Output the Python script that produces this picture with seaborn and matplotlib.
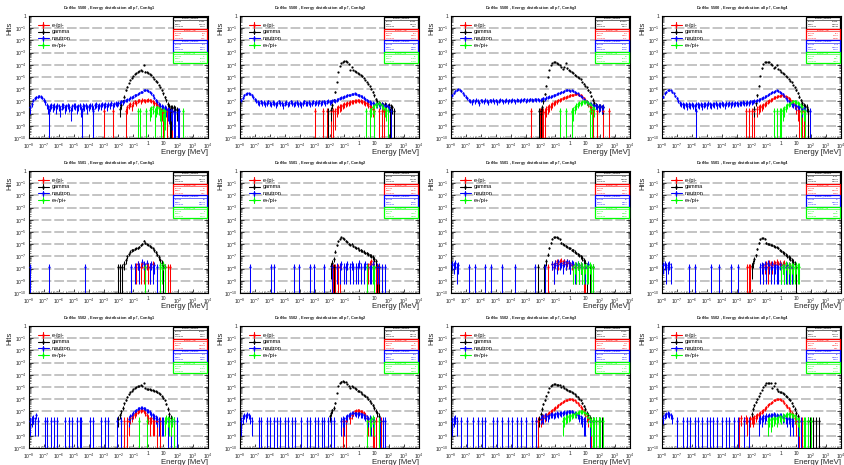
import numpy as np
import matplotlib
matplotlib.use("Agg")
import matplotlib.pyplot as plt
from matplotlib.patches import Rectangle
import seaborn as sns

# ---------------------------------------------------------------------------
# Histogram contents.  Every series is a list of runs (first bin centre in
# log10(E/MeV), list of log10(hits) per 0.1-decade bin, None = empty bin),
# plus the single-entry bins (log10 E) that sit at the unit weight.
# ---------------------------------------------------------------------------
DETECTORS = [5500, 5501, 5502]
CONFIGS = ["Config1", "Config2", "Config3", "Config4"]
SERIES_NAMES = ["e-/pi-", "gamma", "neutron", "e+/pi+"]
SERIES_KEYS = ["EM", "GAMMA", "NEUTRON", "EP"]
UNIT_WEIGHT = [1.5e-8, 1.3e-8, 1.6e-8]
BIN_STEP = 0.1

# ----- DetNo 5500 ----------------------------------------------------------
EM_5500_C1 = [(-1.4, [-7.5, -7.3, -7.2, -7.4, -7.1, -7.0, -7.1, -6.95, -6.9, -7.0, -6.85, -6.9, -6.95, -6.9,
                      -6.85, -6.9, -6.95, -7.0, -7.1, -7.15, -7.3, -7.4, -7.6, -7.7, -7.85])]
EM_5500_C1_ONE = [-2.97, -2.34, -1.5, 1.25, 1.45, 1.6]
GAMMA_5500_C1 = [(-1.9, [-7.6, -7.3, -7.0, -6.6, -6.1, -5.8, -5.5, -5.25, -5.05, -4.9, -4.75, -4.65, -4.55, -4.5,
                         -4.45, -4.5, -4.0, -4.55, -4.6, -4.65, -4.75, -4.85, -5.0, -5.15, -5.3, -5.45, -5.65,
                         -5.85, -6.1, -6.35, -6.65, -6.9, -7.2, -7.4, -7.5, -7.55, -7.5, -7.6, -7.7])]
GAMMA_5500_C1_ONE = [1.45, 1.55, 1.75]
NEUTRON_5500_C1 = [(-7.9, [-7.5, -7.2, -6.9, -6.75, -6.65, -6.6, -6.55, -6.6, -6.7, -6.85, -7.05, -7.3, -7.5, -7.4,
                           -7.3, -7.45, -7.35, -7.5, -7.3, -7.4, -7.6, -7.35, -7.3, -7.5, -7.4, -7.3, -7.45, -7.7,
                           -7.4, -7.3, -7.35, -7.5, -7.4, -7.3, -7.6, -7.35, -7.4, -7.3, -7.5, -7.4, -7.3, -7.35,
                           -7.6, -7.3, -7.25, -7.4, -7.3, -7.35, -7.2, -7.3, -7.25, -7.4, -7.2, -7.3, -7.15, -7.3,
                           -7.2, -7.1, -7.2, -7.1, -7.15, -7.0, -7.05, -6.95, -6.9, -6.85, -6.8, -6.7, -6.65, -6.6,
                           -6.5, -6.45, -6.4, -6.3, -6.25, -6.2, -6.1, -6.05, -6.1, -6.15, -6.25, -6.35, -6.5,
                           -6.7, -6.9, -7.05, -7.2, -7.35, -7.4, -7.5, -7.55, -7.6, -7.7, -7.75, -7.7, -7.8,
                           -7.85, -7.9, None, -7.85])]
NEUTRON_5500_C1_ONE = [-6.64, -4.47, -3.7, 2.05]
EP_5500_C1 = [(0.1, [-7.7, -7.6, -7.5, None, -7.6, -7.5, -7.55, -7.7, None, -7.7, -7.8])]
EP_5500_C1_ONE = [-0.7, -0.55, -0.15, 0.45, 0.85, 1.05, 2.3]

EM_5500_C2 = [(-1.6, [-7.8, -7.6, -7.5, -7.45, -7.4, -7.3, -7.25, -7.2, -7.15, -7.1, -7.05, -7.0, -7.0, -6.95,
                      -6.95, -6.9, -6.95, -6.95, -7.0, -7.05, -7.1, -7.15, -7.25, -7.35, -7.5, -7.6, -7.8])]
EM_5500_C2_ONE = [-2.95, -2.45, -2.2, -1.9, -1.75, 1.3, 1.5, 1.65]
GAMMA_5500_C2 = [(-1.9, [-7.7, -7.3, -6.9, -6.2, -5.4, -4.6, -4.1, -3.85, -3.75, -3.7, -3.7, -3.75, -3.9, -4.4,
                         -4.15, -4.4, -4.5, -4.55, -4.65, -4.75, -4.85, -4.95, -5.1, -5.25, -5.4, -5.55, -5.75,
                         -5.95, -6.2, -6.5, -6.8, -7.0, -7.15, -7.2, -7.25, -7.3, -7.25, -7.35, -7.4, -7.3,
                         -7.45, -7.5])]
GAMMA_5500_C2_ONE = [-2.1, 2.05, 2.3]
NEUTRON_5500_C2 = [(-7.9, [-6.9, -6.7, -6.5, -6.4, -6.35, -6.35, -6.4, -6.5, -6.65, -6.8, -6.95, -7.05, -7.1, -7.0,
                           -7.15, -7.05, -7.2, -7.1, -7.0, -7.15, -7.2, -7.05, -7.1, -7.25, -7.1, -7.0, -7.15,
                           -7.1, -7.3, -7.1, -7.05, -7.2, -7.1, -7.0, -7.15, -7.2, -7.1, -7.05, -7.2, -7.1, -7.25,
                           -7.1, -7.0, -7.15, -7.1, -7.05, -7.2, -7.1, -7.0, -7.1, -7.05, -7.15, -7.0, -7.1,
                           -7.05, -7.0, -7.1, -7.0, -6.95, -7.05, -7.0, -6.95, -6.9, -6.95, -6.85, -6.8, -6.75,
                           -6.7, -6.65, -6.6, -6.55, -6.5, -6.45, -6.45, -6.4, -6.4, -6.35, -6.4, -6.45, -6.5,
                           -6.55, -6.6, -6.7, -6.8, -6.9, -7.0, -7.05, -7.1, -7.15, -7.2, -7.2, -7.25, -7.2,
                           -7.3, -7.25, -7.3, -7.35, -7.3, -7.4, -7.45])]
NEUTRON_5500_C2_ONE = [2.15]
EP_5500_C2 = [(0.8, [-7.6, -7.5, -7.3, -7.25, -7.2, -7.15, -7.2, -7.3, -7.45, -7.6, -7.7])]
EP_5500_C2_ONE = [0.45, 0.7, 1.0, 1.9]

EM_5500_C3 = [(-1.9, [-8.0, -7.9, -7.85, -7.6, -7.5, -7.45, -7.35, -7.25, -7.15, -7.05, -7.0, -6.9, -6.85, -6.8,
                      -6.75, -6.7, -6.65, -6.6, -6.55, -6.5, -6.45, -6.45, -6.4, -6.4, -6.4, -6.45, -6.5, -6.6,
                      -6.75, -6.9, -7.05, -7.2, -7.35, -7.5, -7.7])]
EM_5500_C3_ONE = [-2.65, -2.05, -1.95, 1.55, 1.8, 2.2, 2.6]
GAMMA_5500_C3 = [(-2.0, [-8.0, -7.5, -7.0, -6.4, -5.7, -5.0, -4.4, -4.0, -3.85, -3.8, -3.8, -3.85, -3.9, -4.0,
                         -4.15, -4.35, -4.2, -3.85, -4.3, -4.4, -4.5, -4.6, -4.7, -4.8, -4.9, -5.0, -5.1, -5.2,
                         -5.4, -5.55, -5.7, -5.85, -6.05, -6.25, -6.55, -6.85, -7.1, -7.3, -7.4, -7.45, -7.4,
                         -7.5, -7.5])]
GAMMA_5500_C3_ONE = [-2.1, -2.0]
NEUTRON_5500_C3 = [(-7.9, [-6.5, -6.3, -6.15, -6.05, -6.0, -6.05, -6.15, -6.3, -6.45, -6.6, -6.75, -6.9, -6.95,
                           -7.05, -6.9, -7.0, -6.85, -6.95, -7.1, -6.9, -6.95, -7.0, -6.85, -6.95, -7.05, -6.9,
                           -6.95, -6.85, -7.0, -6.9, -7.05, -6.95, -6.85, -6.9, -7.0, -6.95, -6.85, -7.0, -6.9,
                           -6.95, -6.85, -6.9, -7.0, -6.85, -6.9, -6.95, -6.85, -6.9, -6.8, -6.95, -6.85, -6.9,
                           -6.8, -6.85, -6.9, -6.8, -6.85, -6.8, -6.9, -6.85, -6.8, -6.75, -6.8, -6.7, -6.65,
                           -6.6, -6.6, -6.55, -6.5, -6.45, -6.4, -6.35, -6.3, -6.25, -6.2, -6.15, -6.1, -6.05,
                           -6.1, -6.15, -6.1, -6.15, -6.2, -6.3, -6.35, -6.45, -6.55, -6.65, -6.8, -6.95, -7.05,
                           -7.1, -7.2, -7.25, -7.3, -7.35, -7.3, -7.4, -7.45, -7.4, -7.5, -7.45])]
NEUTRON_5500_C3_ONE = []
EP_5500_C3 = [(0.1, [-7.9, -7.7, -7.5, -7.35, -7.25, -7.15, -7.1, -7.05, -7.0, -7.0, -7.05, -7.1, -7.2, -7.3,
                     -7.45, -7.6])]
EP_5500_C3_ONE = [-0.7, -0.3, 0.1, 1.3, 1.45]

EM_5500_C4 = [(-1.6, [-7.6, -7.5, -7.45, -7.4, -7.3, -7.2, -7.1, -7.0, -6.95, -6.85, -6.8, -6.7, -6.65, -6.6,
                      -6.55, -6.55, -6.5, -6.5, -6.55, -6.6, -6.65, -6.75, -6.85, -7.0, -7.15, -7.3, -7.5, -7.7])]
EM_5500_C4_ONE = [-2.35, -2.2, -2.0, -1.8, 1.2, 1.4, 1.55]
GAMMA_5500_C4 = [(-1.8, [-7.6, -7.1, -6.5, -5.7, -4.9, -4.3, -3.95, -3.8, -3.75, -3.75, -3.8, -3.9, -4.05, -4.25,
                         -4.15, -4.0, -4.35, -4.45, -4.55, -4.65, -4.75, -4.9, -5.0, -5.15, -5.3, -5.45, -5.65,
                         -5.85, -6.05, -6.3, -6.6, -6.9, -7.15, -7.3, -7.4, -7.45])]
GAMMA_5500_C4_ONE = [1.8]
NEUTRON_5500_C4 = [(-7.9, [-6.6, -6.35, -6.2, -6.1, -6.05, -6.1, -6.2, -6.35, -6.55, -6.75, -6.95, -7.1, -7.2,
                           -7.25, -7.3, -7.2, -7.35, -7.25, -7.3, -7.2, -7.3, -7.4, -7.2, -7.25, -7.3, -7.2,
                           -7.35, -7.25, -7.2, -7.3, -7.15, -7.25, -7.3, -7.2, -7.25, -7.15, -7.3, -7.2, -7.25,
                           -7.15, -7.2, -7.3, -7.15, -7.2, -7.1, -7.25, -7.15, -7.2, -7.1, -7.15, -7.2, -7.1,
                           -7.15, -7.05, -7.1, -7.15, -7.05, -7.1, -7.0, -7.05, -7.0, -6.95, -7.0, -6.9, -6.85,
                           -6.8, -6.75, -6.7, -6.6, -6.55, -6.45, -6.4, -6.3, -6.25, -6.2, -6.15, -6.1, -6.15,
                           -6.2, -6.3, -6.4, -6.55, -6.7, -6.85, -7.0, -7.1, -7.2, -7.25, -7.3, -7.35, -7.4,
                           -7.45, -7.5, -7.6, -7.55, -7.7])]
NEUTRON_5500_C4_ONE = [-5.7, 1.9]
EP_5500_C4 = [(0.1, [-7.7, -7.6, -7.45, -7.3, -7.2, -7.1, -7.05, -7.0, -7.0, -7.05, -7.1, -7.2, -7.35, -7.5,
                     -7.7])]
EP_5500_C4_ONE = [-0.5, -0.3, -0.1, 0.0, 1.3, 1.6]

# ----- DetNo 5501 ----------------------------------------------------------
EM_5501_C1 = [(-0.8, [-7.85, -7.6, None, -7.85, -7.5, -7.85, None, -7.6, -7.85, -7.85, None, -7.6])]
EM_5501_C1_ONE = [1.3, 1.45]
GAMMA_5501_C1 = [(-1.6, [-7.6, -7.3, -7.0, -6.8, -6.6, -6.5, -6.45, -6.4, -6.35, -6.3, -6.2, -6.1, -5.95, -5.7,
                         -5.9, -6.0, -6.05, -6.15, -6.25, -6.35, -6.5, -6.65, -6.85, -7.05, -7.3, -7.5, -7.7])]
GAMMA_5501_C1_ONE = [-2.05, -1.9, -1.75, 1.0, 1.1]
NEUTRON_5501_C1 = [(-0.9, [-7.85, None, -7.6, -7.85, None, -7.45, -7.6, -7.85, -7.5, None, -7.85, -7.6, -7.85,
                           -7.7])]
NEUTRON_5501_C1_ONE = [-7.95, -6.65, -4.25, -1.15, 0.6]
EP_5501_C1 = [(0.8, [-7.7, -7.85, -7.6])]
EP_5501_C1_ONE = [-0.2, 0.75, 1.1]

EM_5501_C2 = [(0.6, [-7.85, -7.6, -7.4, -7.6])]
EM_5501_C2_ONE = [-1.85, -1.75, -1.6, -1.45, -1.3, 1.1, 1.25]
GAMMA_5501_C2 = [(-1.9, [-7.8, -7.5, -7.2, -6.6, -6.1, -5.75, -5.55, -5.45, -5.5, -5.6, -5.7, -5.8, -5.95, -6.05,
                         -5.95, -6.15, -6.25, -6.3, -6.35, -6.45, -6.5, -6.55, -6.6, -6.7, -6.75, -6.8, -6.9,
                         -6.95, -7.05, -7.2, -7.4])]
GAMMA_5501_C2_ONE = [-1.85, -1.7, 1.2, 1.3]
NEUTRON_5501_C2 = [(-1.5, [-7.85, None, -7.85, -7.6, None, -7.85, -7.85, -7.6, None, -7.85, -7.6, -7.85, None,
                           -7.85, -7.85, -7.5, -7.85, None, -7.85, -7.6, -7.85, None, -7.85, -7.85, -7.6, -7.85,
                           None, -7.85, -7.85])]
NEUTRON_5501_C2_ONE = [-7.35, -5.9, -5.7, -4.4, -4.05, -3.3, -3.05, -2.4, -1.8, 1.5, 1.75]
EP_5501_C2 = [(0.9, [-7.85])]
EP_5501_C2_ONE = [0.5, 1.0]

EM_5501_C3 = [(-1.2, [-7.6, -7.85, -7.5, -7.4, -7.6, -7.45, -7.35, -7.5, -7.4, -7.6, -7.45, -7.5, -7.7, -7.6,
                      -7.85, -7.7, -7.85, None, -7.85, -7.7])]
EM_5501_C3_ONE = [-1.5, 0.9, 1.0]
GAMMA_5501_C3 = [(-1.6, [-7.4, -6.85, -6.3, -5.9, -5.55, -5.45, -5.4, -5.45, -5.5, -5.6, -5.9, -5.95, -6.05,
                         -6.15, -6.2, -6.3, -6.35, -6.45, -6.5, -6.6, -6.7, -6.8, -6.9, -7.0, -7.15, -7.3, -7.5])]
GAMMA_5501_C3_ONE = [-2.2, -1.75, 1.1, 1.3, 1.5]
NEUTRON_5501_C3 = [(-7.9, [-7.6, -7.7, -7.55, -7.85, -7.7]),
                   (-1.2, [-7.6, -7.85, -7.5, -7.7, -7.4, -7.6, -7.5, -7.7, -7.45, -7.6, -7.4, -7.55, -7.7,
                           -7.5, -7.6, -7.85, -7.7, -7.6, -7.85, -7.7, -7.85, None, -7.85, -7.85, -7.6])]
NEUTRON_5501_C3_ONE = [-6.8, -6.4, -5.7, -5.3, -4.6, -3.7, -2.4, -1.7]
EP_5501_C3 = [(0.2, [-7.85, -7.7, -7.85, -7.6, -7.85, -7.7, -7.85, -7.85, -7.7, -7.85, -7.85, -7.7])]
EP_5501_C3_ONE = [1.4, 1.5]

EM_5501_C4 = [(-1.2, [-7.85, -7.7, -7.6, -7.85, -7.5, -7.6, -7.7, -7.55, -7.6, -7.45, -7.6, -7.5, -7.7, -7.6,
                      -7.55, -7.7, -7.85, -7.7, -7.85, -7.85])]
EM_5501_C4_ONE = [-2.3, -2.2, -2.1]
GAMMA_5501_C4 = [(-2.0, [-7.8, -7.5, -7.2, -6.9, -6.4, -5.9, -5.6, -5.5, -5.5, -5.55, -5.9, -5.95, -6.0, -6.05,
                         -6.1, -6.15, -6.2, -6.25, -6.35, -6.45, -6.55, -6.65, -6.75, -6.85, -6.95, -7.05,
                         -7.15, -7.3, -7.45, -7.6])]
GAMMA_5501_C4_ONE = [1.0]
NEUTRON_5501_C4 = [(-7.9, [-7.7, -7.6, -7.85, -7.7, -7.6, -7.85]),
                   (-1.4, [-7.85, -7.7, -7.85, -7.6, -7.85, -7.5, -7.7, -7.85, -7.6, -7.85, -7.7, -7.85, -7.85,
                           -7.6, -7.85, -7.7, -7.85, -7.85, -7.7, -7.85, -7.85, -7.85])]
NEUTRON_5501_C4_ONE = [-6.2, -5.8, -4.7, -4.2, -3.4, -2.9]
EP_5501_C4 = [(0.0, [-7.85, -7.7, -7.85, -7.6, -7.85, -7.7, -7.85, -7.7, -7.85, -7.85, -7.7, -7.85, -7.85])]
EP_5501_C4_ONE = []

# ----- DetNo 5502 ----------------------------------------------------------
EM_5502_C1 = [(-1.3, [-7.75, -7.5, -7.4, -7.3, -7.2, -7.1, -7.0, -6.95, -6.9, -6.85, -6.95, -7.1, -7.3, -7.5,
                      -7.75, -7.5, -7.75, -7.75])]
EM_5502_C1_ONE = [-1.6, -1.45, 0.6, 0.75]
GAMMA_5502_C1 = [(-2.0, [-7.6, -7.3, -7.0, -6.7, -6.35, -6.05, -5.8, -5.6, -5.45, -5.3, -5.2, -5.1, -5.0, -4.95,
                         -4.9, -4.85, -4.9, -4.65, -5.1, -5.15, -5.2, -5.2, -5.25, -5.25, -5.3, -5.35, -5.45,
                         -5.5, -5.6, -5.75, -5.9, -6.1, -6.4, -6.8, -7.2, -7.5])]
GAMMA_5502_C1_ONE = []
NEUTRON_5502_C1 = [(-7.9, [-7.75, -7.6, -7.5, -7.75, -7.3, -7.75]),
                   (-1.3, [-7.6, -7.4, -7.3, -7.1, -7.0, -6.9, -6.8, -6.75, -6.7, -6.7, -6.75, -6.8, -6.9,
                           -6.95, -7.05, -7.2, -7.3, -7.4, -7.5, -7.6, -7.75, None, -7.75, -7.75])]
NEUTRON_5502_C1_ONE = [-6.9, -6.8, -6.5, -6.3, -6.1, -5.6, -5.3, -5.1, -4.8, -4.6, -4.5, -3.9, -3.7, -3.2,
                       -2.9, -2.7, -2.1, -1.85, 1.3, 1.5, 1.7, 1.9]
EP_5502_C1 = [(1.1, [-7.75, -7.5, -7.6, -7.75, -7.75, -7.6])]
EP_5502_C1_ONE = [-0.6, -0.1, 1.7]

EM_5502_C2 = [(-0.6, [-7.5, -7.3, -7.1, -7.0, -6.95, -6.9, -6.95, -7.0, -7.05, -7.15, -7.3, -7.5, -7.75])]
EM_5502_C2_ONE = [-1.1, -0.9, 0.9, 1.0, 1.15, 1.45]
GAMMA_5502_C2 = [(-2.0, [-7.4, -7.1, -6.9, -6.7, -6.3, -5.5, -4.9, -4.65, -4.55, -4.5, -4.55, -4.6, -4.75, -4.9,
                         -5.05, -4.9, -5.0, -5.1, -5.2, -5.3, -5.35, -5.45, -5.55, -5.65, -5.75, -5.85, -6.0,
                         -6.15, -6.3, -6.5, -6.7, -6.95, -7.15, -7.35])]
GAMMA_5502_C2_ONE = [1.4]
NEUTRON_5502_C2 = [(-7.9, [-7.75, -7.5, -7.3, -7.4, -7.25, -7.3, -7.5, -7.75]),
                   (-1.2, [-7.75, -7.6, -7.75, -7.5, -7.4, -7.3, -7.2, -7.15, -7.1, -7.1, -7.15, -7.2, -7.1,
                           -7.2, -7.25, -7.3, -7.35, -7.5, -7.6, -7.5, -7.75, -7.6, -7.75])]
NEUTRON_5502_C2_ONE = [-6.7, -6.6, -6.2, -6.0, -5.7, -5.5, -5.3, -5.0, -4.8, -4.5, -4.3, -3.9, -3.5, -3.3,
                       -3.0, -2.8, -2.5, -2.4, -2.1, -1.9, -1.7, 1.4, 1.6, 1.75]
EP_5502_C2 = [(0.7, [-7.75, -7.6, -7.5, -7.75])]
EP_5502_C2_ONE = [0.5, 1.3]

EM_5502_C3 = [(-2.0, [-7.6, -7.5, -7.45, -7.4, -7.3, -7.2, -7.1, -7.0, -6.9, -6.8, -6.7, -6.6, -6.5, -6.4, -6.3,
                      -6.2, -6.15, -6.1, -6.05, -6.0, -6.0, -6.0, -6.05, -6.1, -6.2, -6.3, -6.45, -6.6, -6.8,
                      -7.0, -7.2, -7.4, -7.6])]
EM_5502_C3_ONE = [-2.3, -2.15, 1.4]
GAMMA_5502_C3 = [(-2.1, [-7.6, -7.2, -6.8, -6.4, -6.05, -5.7, -5.4, -5.1, -4.9, -4.8, -4.75, -4.75, -4.8, -4.8,
                         -4.85, -5.0, -4.95, -5.05, -5.15, -5.25, -5.3, -5.35, -5.4, -5.5, -5.6, -5.7, -5.8,
                         -5.95, -6.1, -6.3, -6.55, -6.8, -7.1, -7.3, -7.5])]
GAMMA_5502_C3_ONE = [1.5, 1.7, 1.9, 2.1]
NEUTRON_5502_C3 = [(-7.9, [-7.75, -7.6, -7.5, -7.75]),
                   (-2.0, [-7.5, -7.4, -7.5, -7.3, -7.35, -7.4, -7.3, -7.25, -7.2, -7.3, -7.2, -7.15, -7.2,
                           -7.1, -7.15, -7.1, -7.05, -7.1, -7.05, -7.0, -7.05, -7.0, -7.1, -7.15, -7.2, -7.3,
                           -7.4, -7.5, -7.6, -7.75, -7.75])]
NEUTRON_5502_C3_ONE = [-7.3, -6.9, -6.5, -6.2, -5.9, -5.7, -5.2, -4.9, -4.6, -4.2, -3.9, -3.6, -3.3, -3.0,
                       -2.6, -2.3, 1.3, 1.5]
EP_5502_C3 = [(-0.5, [-7.75, -7.6, -7.5, -7.45, -7.4, -7.35, -7.3, -7.25, -7.2, -7.15, -7.1, -7.05, -7.0, -7.0,
                      -7.05, -7.1, -7.25, -7.45, -7.6, -7.75])]
EP_5502_C3_ONE = [1.5, 1.6, 1.75, 1.9, 2.0, 2.2]

EM_5502_C4 = [(-2.7, [-7.55, None, -7.75, -7.5, -7.75, None, -7.6, -7.5, -7.6, -7.5, -7.4, -7.3, -7.25, -7.1,
                      -7.0, -6.9, -6.8, -6.65, -6.5, -6.4, -6.3, -6.2, -6.1, -6.05, -6.0, -6.0, -6.0, -6.05,
                      -6.15, -6.3, -6.45, -6.6, -6.75, -6.95, -7.1, -7.3, -7.5, -7.75])]
EM_5502_C4_ONE = [-2.85, 1.2, 1.4]
GAMMA_5502_C4 = [(-2.0, [-7.2, -6.8, -6.5, -6.25, -6.0, -5.75, -5.5, -5.25, -5.0, -4.85, -4.7, -4.65, -4.65,
                         -4.7, -5.1, -4.9, -4.65, -5.2, -5.35, -5.4, -5.45, -5.5, -5.6, -5.7, -5.8, -5.95, -6.1,
                         -6.3, -6.55, -6.8, -7.1, -7.4])]
GAMMA_5502_C4_ONE = [1.8, 1.95, 2.1, 2.3, 2.5]
NEUTRON_5502_C4 = [(-7.9, [-7.5, -7.3, -7.25, -7.15, -7.2, -7.3, -7.5]),
                   (-1.5, [-7.75, -7.5, -7.6, -7.4, -7.5, -7.35, -7.4, -7.3, -7.35, -7.3, -7.25, -7.35, -7.3,
                           -7.4, -7.3, -7.35, -7.45, -7.4, -7.5, -7.6, -7.5, -7.75, -7.6, -7.75])]
NEUTRON_5502_C4_ONE = [-7.0, -6.6, -6.3, -6.1, -5.8, -5.6, -5.3, -5.0, -4.8, -4.6, -4.3, -4.0, -3.7, -3.5,
                       -3.2, -2.9, -2.5, -2.2, 1.1, 1.3]
EP_5502_C4 = [(-0.9, [-7.75, -7.6, -7.7, -7.6, -7.55, -7.5, -7.6, -7.45, -7.4, -7.5, -7.35, -7.4, -7.3, -7.25,
                      -7.2, -7.2, -7.25, -7.3, -7.4, -7.5, -7.6, -7.75])]
EP_5502_C4_ONE = [1.5, 1.6, 1.8, 2.0]

X_TICK_LABELS = [r"$10^{-8}$", r"$10^{-7}$", r"$10^{-6}$", r"$10^{-5}$", r"$10^{-4}$", r"$10^{-3}$",
                 r"$10^{-2}$", r"$10^{-1}$", "1", "10", r"$10^{2}$", r"$10^{3}$", r"$10^{4}$"]
Y_TICK_LABELS = [r"$10^{-10}$", r"$10^{-9}$", r"$10^{-8}$", r"$10^{-7}$", r"$10^{-6}$", r"$10^{-5}$",
                 r"$10^{-4}$", r"$10^{-3}$", r"$10^{-2}$", r"$10^{-1}$", "1"]

# ---------------------------------------------------------------------------
# Style
# ---------------------------------------------------------------------------
sns.set_style("ticks")
plt.rcParams["font.family"] = ["Liberation Sans", "DejaVu Sans"]
plt.rcParams["mathtext.fontset"] = "custom"
plt.rcParams["mathtext.rm"] = "Liberation Sans"
plt.rcParams["mathtext.it"] = "Liberation Sans:italic"
plt.rcParams["mathtext.bf"] = "Liberation Sans:bold"
plt.rcParams["mathtext.default"] = "regular"

COLORS = {"EM": "#ff0000", "GAMMA": "#000000", "NEUTRON": "#0000ff", "EP": "#00ff00"}
STAT_ORDER = ["GAMMA", "EM", "NEUTRON", "EP"]
STAT_TITLES = {"GAMMA": "hEnergy_gamma", "EM": "hEnergy_em", "NEUTRON": "hEnergy_neutron", "EP": "hEnergy_ep"}

W_PX, H_PX = 844, 465
fig = plt.figure(figsize=(W_PX / 100, H_PX / 100), dpi=100)
fig.patch.set_facecolor("white")

# panel geometry in pixels (per 211 x 155 cell)
CELL_W, CELL_H = 211, 155
AX_L, AX_R, AX_T, AX_B = 29, 208, 16, 138


def series_points(runs, ones, w):
    xs, ys = [], []
    for start, vals in runs:
        for i, v in enumerate(vals):
            if v is None:
                continue
            xs.append(start + i * BIN_STEP)
            ys.append(10.0 ** v)
    for e in ones:
        xs.append(e)
        ys.append(w)
    return 10.0 ** np.array(xs), np.array(ys)


def draw_series(ax, energies, hits, w, color):
    if len(energies) == 0:
        return
    err = np.sqrt(hits * w)
    lo = np.clip(hits - err, 1e-10, None)
    hi = hits + err
    ax.vlines(energies, lo, hi, colors=color, lw=0.75, zorder=3)
    sns.scatterplot(x=energies, y=hits, color=color, s=2.6, linewidth=0, ax=ax,
                    legend=False, zorder=4)


def draw_stats(ax, key, idx, energies, hits, w):
    color = COLORS[key]
    bx0, bw = 0.806, 0.189
    bh = 0.094
    by = 0.99 - (idx + 1) * bh
    ax.add_patch(Rectangle((bx0, by), bw, bh, transform=ax.transAxes, facecolor="white",
                           edgecolor=color, lw=0.9, zorder=6, clip_on=False))
    ax.plot([bx0, bx0 + bw], [by + bh * 0.76, by + bh * 0.76], transform=ax.transAxes,
            color=color, lw=0.4, zorder=7, clip_on=False)
    if len(hits):
        total = hits.sum()
        entries = int(round(total / w))
        mean = float((hits * energies).sum() / total)
        std = float(np.sqrt((hits * (energies - mean) ** 2).sum() / total))
    else:
        entries, mean, std = 0, 0.0, 0.0
    ax.text(bx0 + bw / 2, by + bh * 0.88, STAT_TITLES[key], transform=ax.transAxes,
            fontsize=1.6, color=color, ha="center", va="center", zorder=8)
    rows = [("Entries", f"{entries}"), ("Mean", f"{mean:.4g}"), ("Std Dev", f"{std:.4g}")]
    for j, (lab, val) in enumerate(rows):
        yy = by + bh * (0.6 - 0.22 * j)
        ax.text(bx0 + 0.01, yy, lab, transform=ax.transAxes, fontsize=1.6, color=color,
                ha="left", va="center", zorder=8)
        ax.text(bx0 + bw - 0.01, yy, val, transform=ax.transAxes, fontsize=1.6, color=color,
                ha="right", va="center", zorder=8)


g = globals()
for r, det in enumerate(DETECTORS):
    w = UNIT_WEIGHT[r]
    for c, cfg in enumerate(CONFIGS):
        x0, y0 = c * CELL_W, r * CELL_H
        ax = fig.add_axes([(x0 + AX_L) / W_PX, 1 - (y0 + AX_B) / H_PX,
                           (AX_R - AX_L) / W_PX, (AX_B - AX_T) / H_PX])
        ax.set_xscale("log")
        ax.set_yscale("log")
        ax.set_xlim(1e-8, 1e4)
        ax.set_ylim(1e-10, 1)

        ax.set_xticks([10.0 ** k for k in range(-8, 5)])
        ax.set_xticklabels(X_TICK_LABELS)
        ax.set_yticks([10.0 ** k for k in range(-10, 1)])
        ax.set_yticklabels(Y_TICK_LABELS)
        ax.xaxis.set_minor_locator(matplotlib.ticker.LogLocator(base=10, subs=np.arange(2, 10), numticks=100))
        ax.yaxis.set_minor_locator(matplotlib.ticker.LogLocator(base=10, subs=np.arange(2, 10), numticks=100))
        ax.xaxis.set_minor_formatter(matplotlib.ticker.NullFormatter())
        ax.yaxis.set_minor_formatter(matplotlib.ticker.NullFormatter())
        ax.tick_params(axis="both", which="major", direction="in", length=2.6, width=0.6,
                       labelsize=3.6, right=True, top=False)
        ax.tick_params(axis="x", which="major", pad=2.4)
        ax.tick_params(axis="y", which="major", pad=1.8)
        ax.tick_params(axis="both", which="minor", direction="in", length=1.3, width=0.4,
                       right=True, top=False)
        for sp in ax.spines.values():
            sp.set_linewidth(0.8)
            sp.set_color("black")

        ax.grid(axis="y", which="major", color="#c4c4c4", lw=1.4, ls=(0, (5, 1.5)), zorder=0)
        ax.set_axisbelow(True)

        pts = {}
        for key in SERIES_KEYS:
            runs = g[f"{key}_{det}_C{c + 1}"]
            ones = g[f"{key}_{det}_C{c + 1}_ONE"]
            pts[key] = series_points(runs, ones, w)
        for key in SERIES_KEYS:
            draw_series(ax, pts[key][0], pts[key][1], w, COLORS[key])

        # legend block (marker with error cross)
        for k, (key, name) in enumerate(zip(SERIES_KEYS, SERIES_NAMES)):
            yy = 0.926 - k * 0.055
            col = COLORS[key]
            ax.plot([0.05, 0.112], [yy, yy], transform=ax.transAxes, color=col, lw=0.8, zorder=7)
            ax.plot([0.081, 0.081], [yy - 0.022, yy + 0.022], transform=ax.transAxes, color=col,
                    lw=0.8, zorder=7)
            ax.plot([0.081], [yy], "o", transform=ax.transAxes, color=col, ms=1.8, mew=0, zorder=8)
            ax.text(0.128, yy, name, transform=ax.transAxes, fontsize=4.0, color="black",
                    ha="left", va="center", zorder=8)

        for idx, key in enumerate(STAT_ORDER):
            draw_stats(ax, key, idx, pts[key][0], pts[key][1], w)

        fig.text((x0 + 110) / W_PX, 1 - (y0 + 4) / H_PX,
                 f"DetNo: {det} , Energy distribution all $p_{{T}}$, {cfg}",
                 fontsize=2.9, fontweight="bold", ha="center", va="top")
        fig.text((x0 + 10) / W_PX, 1 - (y0 + 22) / H_PX, "Hits", rotation=90,
                 fontsize=5.5, ha="center", va="top")
        fig.text((x0 + AX_R) / W_PX, 1 - (y0 + 152) / H_PX, "Energy [MeV]",
                 fontsize=5.6, ha="right", va="center")

fig.savefig("out.png", dpi=100, facecolor="white")
